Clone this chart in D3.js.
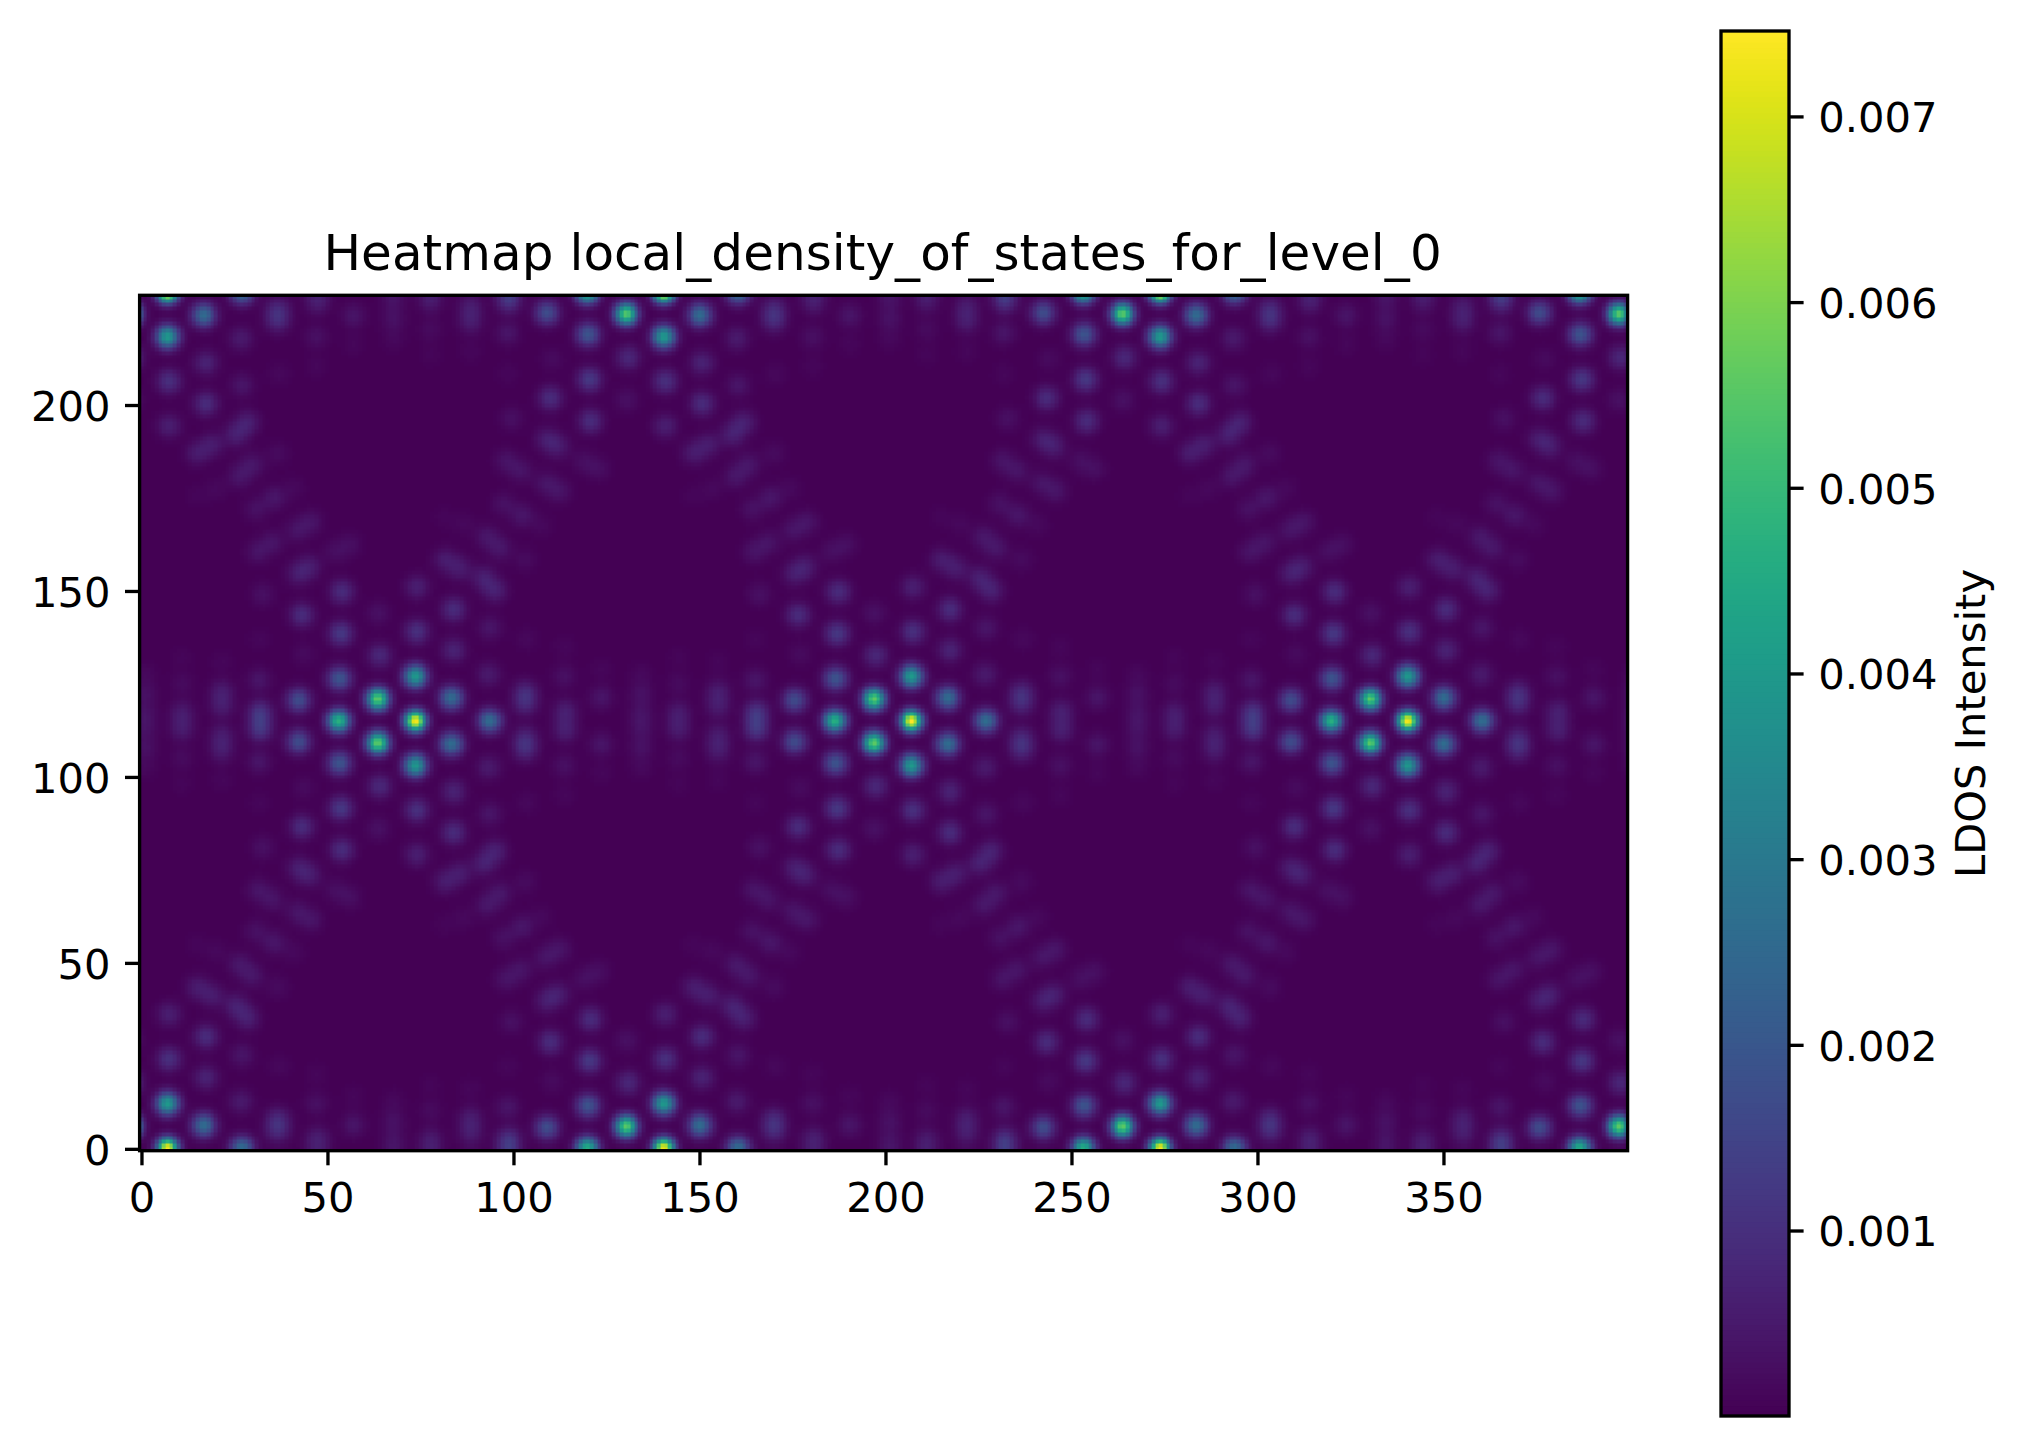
<!DOCTYPE html>
<html>
<head>
<meta charset="utf-8">
<script src="https://d3js.org/d3.v7.min.js"></script>
<style>
html, body { margin: 0; padding: 0; background: #fff; }
text { font-family: "DejaVu Sans"; fill: #000; }
</style>
</head>
<body>
<script>
var width = 2026, height = 1446;

var titleText = "Heatmap local_density_of_states_for_level_0";
var cbarLabel = "LDOS Intensity";
var xTicks = [0, 50, 100, 150, 200, 250, 300, 350];
var yTicks = [0, 50, 100, 150, 200];
var cbarTicks = [0.001, 0.002, 0.003, 0.004, 0.005, 0.006, 0.007];
var valueMin = 0.000001, valueMax = 0.00746;
var gridCols = 400, gridRows = 230;

// where the bright spot of each repeated pattern sits
var centerX = [-59.8, 73.6, 207, 340.4, 7, 140.4, 273.8, 407.2, 7, 140.4, 273.8, 407.2];
var centerY = [115.1, 115.1, 115.1, 115.1, 0.2, 0.2, 0.2, 0.2, 230.4, 230.4, 230.4, 230.4];

// spots, relative to a centre (upper half, mirrored below)
var spotDx = [0, -10.1, -20.6, 0, 9.7, 20, -20.4, -31.4, -41.7, -9.6, -20, 0.4, 10.3, 19.7,
  29.6, 29.6, 40.3, 50, 40, 60.7, 60.7, 60.7, -42, -52, -52, -62.7, -62.7, -30.5, -19.7, -31.5, -28.5, -41,
  -21.5, -17.5, -31.8, -28, -42.4, -38.4, -10, 0.4, 10.3, 8, 12, 18.4, 21.5, 20, 29.6,
  22.8, 19.3, 13, 7.6, 23.7, 28.7, 34, 30, -30, -42, -52, -62.7, 40, 50];
var spotDy = [0, 5.9, 0, 12, 6.2, 0, 11.4, 5.6, 2.2, 17.6, 23.5, 24, 19, 12.5,
  4.7, 7.8, 2.5, 6.3, 12, 2, 7.3, 12.7, 11, 4, 8, 2.2, 10, 28.5, 34.7, 39.5, 41.5, 34,
  45.5, 47.5, 51.3, 53.5, 45.4, 48, 29, 36, 30, 43.3, 41, 38.3, 35, 25, 43.3,
  46.4, 49.5, 53, 54.8, 58.4, 55.3, 52.6, 22, 18, 22, 16, 17, 20, 14];
var spotV = [0.00746, 0.0056, 0.0047, 0.004, 0.0026, 0.0026, 0.0019, 0.0017, 0.0011, 0.0008, 0.0012, 0.001, 0.0007, 0.0005,
  0.0007, 0.0007, 0.0006, 0.0004, 0.0003, 0.0003, 0.0003, 0.00015, 0.0004, 0.0005, 0.0005, 0.0005, 0.0002, 0.0009, 0.0009, 0.0005, 0.0005, 0.0003,
  0.00025, 0.00025, 0.00035, 0.00035, 0.00035, 0.00035, 0.0003, 0.0006, 0.0009, 0.0005, 0.0005, 0.0006, 0.0006, 0.0004, 0.0002,
  0.0004, 0.0004, 0.00015, 0.0001, 0.0003, 0.0004, 0.00015, 0.00015, 0.0002, 0.00012, 0.00012, 0.0001, 0.00012, 0.00012];

var spineWidth = 3.33, tickLen = 14.6, tickPad = 14.6, tickFont = 41.67, titleFont = 50;

var axLeft = 139.6, axRight = 1627.6, axTop = 295.3, axBottom = 1150.7;
var barLeft = 1721, barRight = 1789, barTop = 31, barBottom = 1416;

var x = d3.scaleLinear().domain([-0.5, gridCols - 0.5]).range([axLeft, axRight]);
var y = d3.scaleLinear().domain([-0.5, gridRows - 0.5]).range([axBottom, axTop]);
var barY = d3.scaleLinear().domain([valueMin, valueMax]).range([barBottom, barTop]);
var color = d3.scaleSequential(d3.interpolateViridis).domain([valueMin, valueMax]);
// faint spots look a little wider than the bright ones
var spread = d3.scaleLinear().domain([0.0005, 0.0075]).range([2.3, 1.9]).clamp(true);

// build the cell values from the spots
var field = new Float32Array(gridCols * gridRows);
function addSpot(px, py, v) {
    var s = spread(v);
    var reach = Math.ceil(s * 4);
    for (var j = Math.max(0, Math.floor(py) - reach); j <= Math.min(gridRows - 1, Math.ceil(py) + reach); j++) {
        for (var i = Math.max(0, Math.floor(px) - reach); i <= Math.min(gridCols - 1, Math.ceil(px) + reach); i++) {
            var d2 = (i - px) * (i - px) + (j - py) * (j - py);
            field[j * gridCols + i] += v * Math.exp(-d2 / (2 * s * s));
        }
    }
}
centerX.forEach(function(cx, c) {
    spotDx.forEach(function(dx, k) {
        addSpot(cx + dx, centerY[c] + spotDy[k], spotV[k]);
        if (spotDy[k] != 0) {
            addSpot(cx + dx, centerY[c] - spotDy[k], spotV[k]);
        }
    });
});

// heatmap cells go on a canvas, the svg shows it as an image
var canvas = document.createElement("canvas");
canvas.width = Math.round(axRight - axLeft);
canvas.height = Math.round(axBottom - axTop);
var ctx = canvas.getContext("2d");
for (var j = 0; j < gridRows; j++) {
    var y0 = Math.round(y(j + 0.5) - axTop), y1 = Math.round(y(j - 0.5) - axTop);
    for (var i = 0; i < gridCols; i++) {
        var x0 = Math.round(x(i - 0.5) - axLeft), x1 = Math.round(x(i + 0.5) - axLeft);
        ctx.fillStyle = color(Math.max(valueMin, Math.min(valueMax, field[j * gridCols + i])));
        ctx.fillRect(x0, y0, x1 - x0, y1 - y0);
    }
}

var svg = d3.select("body").append("svg")
    .attr("width", width)
    .attr("height", height)
    .style("display", "block");

svg.append("image")
    .attr("x", axLeft)
    .attr("y", axTop)
    .attr("width", axRight - axLeft)
    .attr("height", axBottom - axTop)
    .attr("href", canvas.toDataURL("image/png"));

function styleAxis(g) {
    g.select(".domain").remove();
    g.selectAll(".tick line").attr("stroke", "#000").attr("stroke-width", spineWidth);
    g.selectAll(".tick text").style("font-size", tickFont + "px").style("font-family", "DejaVu Sans");
}

svg.append("g")
    .attr("transform", "translate(0," + axBottom + ")")
    .call(d3.axisBottom(x).tickValues(xTicks).tickFormat(d3.format("d")).tickSize(tickLen).tickPadding(tickPad))
    .call(styleAxis)
    .selectAll(".tick text").attr("dy", "0.76em");

svg.append("g")
    .attr("transform", "translate(" + axLeft + ",0)")
    .call(d3.axisLeft(y).tickValues(yTicks).tickFormat(d3.format("d")).tickSize(tickLen).tickPadding(tickPad))
    .call(styleAxis)
    .selectAll(".tick text").attr("dy", "0.37em");

// spines
svg.append("rect")
    .attr("x", axLeft)
    .attr("y", axTop)
    .attr("width", axRight - axLeft)
    .attr("height", axBottom - axTop)
    .attr("fill", "none")
    .attr("stroke", "#000")
    .attr("stroke-width", spineWidth);

svg.append("text")
    .attr("x", (axLeft + axRight) / 2 - 1)
    .attr("y", 270)
    .attr("text-anchor", "middle")
    .style("font-size", titleFont + "px")
    .style("letter-spacing", "0.06px")
    .text(titleText);

// colorbar
var barStep = (barBottom - barTop) / 256;
var barLevels = d3.range(256).map(function(k) { return valueMin + (valueMax - valueMin) * (k + 0.5) / 256; });
svg.append("g").selectAll("rect")
    .data(barLevels)
    .enter().append("rect")
    .attr("x", barLeft)
    .attr("width", barRight - barLeft)
    .attr("y", function(d) { return barY(d) - barStep / 2; })
    .attr("height", barStep + 1)
    .attr("fill", function(d) { return color(d); });

svg.append("rect")
    .attr("x", barLeft)
    .attr("y", barTop)
    .attr("width", barRight - barLeft)
    .attr("height", barBottom - barTop)
    .attr("fill", "none")
    .attr("stroke", "#000")
    .attr("stroke-width", spineWidth);

svg.append("g")
    .attr("transform", "translate(" + barRight + ",0)")
    .call(d3.axisRight(barY).tickValues(cbarTicks).tickFormat(d3.format(".3f")).tickSize(tickLen).tickPadding(tickPad))
    .call(styleAxis)
    .selectAll(".tick text").attr("dy", "0.37em");

svg.append("text")
    .attr("transform", "translate(1970," + ((barTop + barBottom) / 2) + ") rotate(-90)")
    .attr("text-anchor", "middle")
    .attr("dy", "0.35em")
    .style("font-size", tickFont + "px")
    .text(cbarLabel);
</script>
</body>
</html>
